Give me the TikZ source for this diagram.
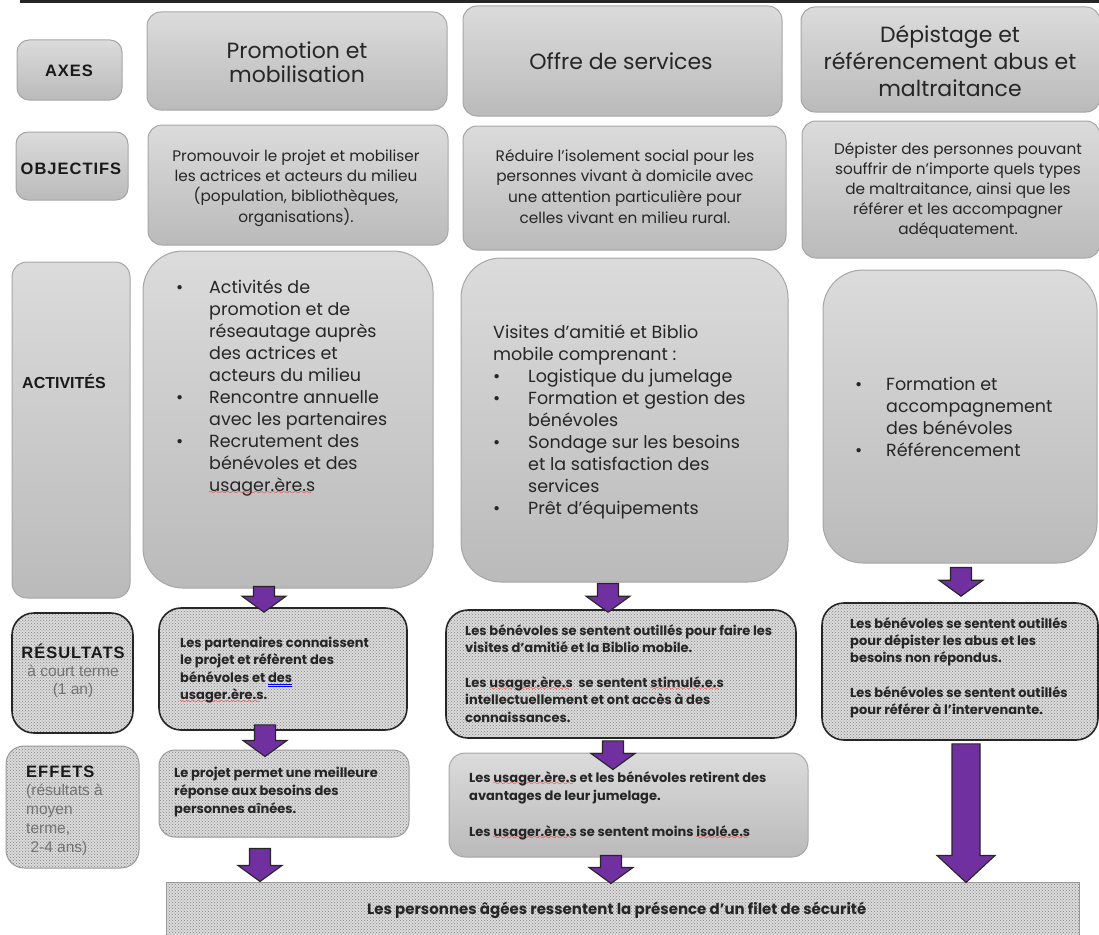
\documentclass[tikz,border=0pt]{standalone}
\usepackage{fontspec}
\usetikzlibrary{fit,patterns,calc}

\setmainfont{Poppins}
\newfontfamily\lblfont{Liberation Sans}
\newfontfamily\lblwide[LetterSpace=6]{Liberation Sans}

\definecolor{arrowpurple}{HTML}{7030A0}
\definecolor{boxtext}{HTML}{262626}

% spell-check marks
\font\spellfont=lasy8
\newsavebox\markbox
\newcommand{\sqw}[1]{\sbox\markbox{#1}\rlap{\textcolor{red}{\lower3.5pt\hbox to \wd\markbox{\leaders\hbox{\spellfont\char58}\hfill}}}\usebox\markbox}
\newcommand{\gram}[1]{\sbox\markbox{#1}\rlap{\textcolor{blue}{\rule[-2.5pt]{\wd\markbox}{0.8pt}}}\rlap{\textcolor{blue}{\rule[-4.5pt]{\wd\markbox}{0.8pt}}}\usebox\markbox}

% block arrow: from, to, x, top shift, tip shift, shaft half width, head half width, head length
\newcommand{\blockarrow}[8]{%
  \draw[blockarrow] let \p1=(#1), \p2=(#2) in
    ({(#3-#6)*1pt},{\y1-(#4pt)}) -- ({(#3+#6)*1pt},{\y1-(#4pt)})
    -- ({(#3+#6)*1pt},{\y2-(#5pt)+#8pt}) -- ({(#3+#7)*1pt},{\y2-(#5pt)+#8pt})
    -- ({#3*1pt},{\y2-(#5pt)})
    -- ({(#3-#7)*1pt},{\y2-(#5pt)+#8pt}) -- ({(#3-#6)*1pt},{\y2-(#5pt)+#8pt}) -- cycle;}
\newcommand{\smallarrow}[5]{\blockarrow{#1}{#2}{#3}{#4}{#5}{10.5}{22}{16}}

\begin{document}
\begin{tikzpicture}[x=1pt, y=-1pt,
    box/.style={draw=black!35, line width=1pt, rounded corners=14pt, inner sep=0pt,
      top color=black!14, bottom color=black!27},
    bigbox/.style={box, rounded corners=40pt},
    patbox/.style={rounded corners=22pt, inner sep=0pt, draw=black!85, line width=1.6pt,
      preaction={fill=black!14}, pattern=crosshatch dots, pattern color=black!50},
    softpat/.style={patbox, draw=black!40, line width=1pt, rounded corners=16pt},
    txt/.style={inner sep=0pt, text=boxtext},
    lbl/.style={inner sep=0pt, text=black!90},
    blockarrow/.style={fill=arrowpurple, draw=black!85, line width=1.1pt, line join=miter}]
\useasboundingbox (0,0) rectangle (1099,934);
% Top rule
\draw[line width=3pt, black!85] (20,1.5) -- (1099,1.5);

% Row labels
\node[box, rounded corners=12pt, fit={(17,40) (122,100)}] (axes) {};
\node[box, rounded corners=12pt, fit={(16,132) (128,200)}] (objlbl) {};
\node[box, rounded corners=15pt, fit={(12,262) (130,598)}] (actlbl) {};
\node[patbox, fit={(12,613) (133,733)}] (reslbl) {};
\node[softpat, rounded corners=18pt, fit={(6,746) (139,868)}] (efflbl) {};

% Axes
\node[box, fit={(147,12) (447,110)}] (promo) {};
\node[box, fit={(463,6) (782,116)}] (offre) {};
\node[box, fit={(801,7) (1100,112)}] (depist) {};

% Objectifs
\node[box, fit={(148,125) (448,245)}] (obj1) {};
\node[box, fit={(463,126) (786,250)}] (obj2) {};
\node[box, fit={(802,121) (1100,258)}] (obj3) {};

% Activites
\node[bigbox, fit={(143,251) (433,588)}] (act1) {};
\node[bigbox, fit={(461,258) (788,582)}] (act2) {};
\node[bigbox, fit={(823,270) (1097,563)}] (act3) {};

% Resultats
\node[patbox, fit={(159,608) (407,730)}] (res1) {};
\node[patbox, fit={(446,610) (796,738)}] (res2) {};
\node[patbox, fit={(822,603) (1098,740)}] (res3) {};

% Effets
\node[softpat, fit={(159,750) (409,837)}] (eff1) {};
\node[box, rounded corners=16pt, fit={(449,753) (808,857)}] (eff2) {};

% Final
\node[softpat, rounded corners=0pt, fit={(166,882) (1079,950)}] (final) {};

% Arrows
\smallarrow{act1.south}{res1.north}{264}{-2}{5}
\smallarrow{act2.south}{res2.north}{608}{1}{3}
\smallarrow{act3.south}{res3.north}{961}{4}{-6}
\smallarrow{res1.south}{eff1.north}{265}{-6}{7}
\smallarrow{res2.south}{eff2.north}{613}{2}{17}
\blockarrow{res3.south}{final.north}{966}{3}{1}{14}{29}{27}
\smallarrow{eff1.south}{final.north}{260}{11}{0}
\smallarrow{eff2.south}{final.north}{611}{-2}{2}

% Label texts
\node[lbl, font=\lblwide\bfseries\fontsize{16.5}{20}\selectfont, anchor=base] (axest) at (69,77) {AXES};
\node[lbl, font=\lblwide\bfseries\fontsize{16.5}{20}\selectfont, anchor=base] (objt) at (71,174) {OBJECTIFS};
\node[lbl, font=\lblfont\bfseries\fontsize{16}{20}\selectfont, anchor=base west] (actt) at (22,388) {ACTIVITÉS};
\node[lbl, font=\lblfont\fontsize{15.5}{18}\selectfont, anchor=base] (rest) at (73,658)
  {\begin{tabular}[t]{@{}c@{}}{\lblwide\bfseries\fontsize{16.5}{18}\selectfont RÉSULTATS}\\
   \color{black!55}à court terme\\ \color{black!55}(1 an)\end{tabular}};
\node[lbl, font=\lblfont\fontsize{15.5}{18.8}\selectfont, anchor=base west] (efft) at (26,777)
  {\begin{tabular}[t]{@{}l@{}}{\lblwide\bfseries\fontsize{16.5}{18}\selectfont EFFETS}\\
   \color{black!55}(résultats à\\ \color{black!55}moyen\\ \color{black!55}terme,\\ \color{black!55}\ 2-4 ans)\end{tabular}};

% Axe texts
\node[txt, font=\fontsize{22}{24}\selectfont, anchor=base] (promot) at (297,59)
  {\begin{tabular}[t]{@{}c@{}}Promotion et\\mobilisation\end{tabular}};
\node[txt, font=\fontsize{22}{24}\selectfont, anchor=base] (offret) at (621,69) {Offre de services};
\node[txt, font=\fontsize{22}{27}\selectfont, anchor=base] (depistt) at (950,43)
  {\begin{tabular}[t]{@{}c@{}}Dépistage et\\référencement abus et\\maltraitance\end{tabular}};

% Objectif texts
\node[txt, font=\fontsize{15.3}{20.3}\selectfont, anchor=base] (obj1t) at (296,161)
  {\begin{tabular}[t]{@{}c@{}}Promouvoir le projet et mobiliser\\les actrices et acteurs du milieu\\
   (population, bibliothèques,\\organisations).\end{tabular}};
\node[txt, font=\fontsize{15.3}{20.8}\selectfont, anchor=base] (obj2t) at (625,161)
  {\begin{tabular}[t]{@{}c@{}}Réduire l’isolement social pour les\\personnes vivant à domicile avec\\
   une attention particulière pour\\celles vivant en milieu rural.\end{tabular}};
\node[txt, font=\fontsize{15.3}{20.2}\selectfont, anchor=base] (obj3t) at (958,154)
  {\begin{tabular}[t]{@{}c@{}}Dépister des personnes pouvant\\souffrir de n’importe quels types\\
   de maltraitance, ainsi que les\\référer et les accompagner\\adéquatement.\end{tabular}};

% Activite texts
\node[txt, font=\fontsize{17.5}{22}\selectfont, anchor=base west] (act1t) at (176,293)
  {\begin{tabular}[t]{@{}p{33pt}@{}l@{}}
   \textbullet & Activités de\\ & promotion et de\\ & réseautage auprès\\
   & des actrices et\\ & acteurs du milieu\\
   \textbullet & Rencontre annuelle\\ & avec les partenaires\\
   \textbullet & Recrutement des\\ & bénévoles et des\\ & \sqw{usager.ère.s}
   \end{tabular}};
\node[txt, font=\fontsize{17.5}{22}\selectfont, anchor=base west] (act2t) at (493,338)
  {\begin{tabular}[t]{@{}p{35pt}@{}l@{}}
   \multicolumn{2}{@{}l@{}}{Visites d’amitié et Biblio}\\
   \multicolumn{2}{@{}l@{}}{mobile comprenant :}\\
   \textbullet & Logistique du jumelage\\
   \textbullet & Formation et gestion des\\ & bénévoles\\
   \textbullet & Sondage sur les besoins\\ & et la satisfaction des\\ & services\\
   \textbullet & Prêt d’équipements
   \end{tabular}};
\node[txt, font=\fontsize{17.5}{22}\selectfont, anchor=base west] (act3t) at (855,390)
  {\begin{tabular}[t]{@{}p{31pt}@{}l@{}}
   \textbullet & Formation et\\ & accompagnement\\ & des bénévoles\\
   \textbullet & Référencement
   \end{tabular}};

% Resultat texts
\node[txt, font=\bfseries\fontsize{13}{17.5}\selectfont, anchor=base west] (res1t) at (180,647)
  {\begin{tabular}[t]{@{}l@{}}Les partenaires connaissent\\le projet et réfèrent des\\
   bénévoles et \gram{des}\\\sqw{usager.ère.s}.\end{tabular}};
\node[txt, font=\bfseries\fontsize{13}{17.4}\selectfont, anchor=base west] (res2t) at (465,635)
  {\begin{tabular}[t]{@{}l@{}}Les bénévoles se sentent outillés pour faire les\\
   visites d’amitié et la Biblio mobile.\\ \\
   Les \sqw{usager.ère.s}\ \ se sentent \sqw{stimulé.e.s}\\
   intellectuellement et ont accès à des\\connaissances.\end{tabular}};
\node[txt, font=\bfseries\fontsize{13}{17.3}\selectfont, anchor=base west] (res3t) at (850,628)
  {\begin{tabular}[t]{@{}l@{}}Les bénévoles se sentent outillés\\pour dépister les abus et les\\
   besoins non répondus.\\ \\
   Les bénévoles se sentent outillés\\pour référer à l’intervenante.\end{tabular}};

% Effet texts
\node[txt, font=\bfseries\fontsize{13}{18}\selectfont, anchor=base west] (eff1t) at (174,777)
  {\begin{tabular}[t]{@{}l@{}}Le projet permet une meilleure\\réponse aux besoins des\\
   personnes aînées.\end{tabular}};
\node[txt, font=\bfseries\fontsize{13}{18}\selectfont, anchor=base west] (eff2t) at (469,782)
  {\begin{tabular}[t]{@{}l@{}}Les \sqw{usager.ère.s} et les bénévoles retirent des\\
   avantages de leur jumelage.\\ \\
   Les \sqw{usager.ère.s} se sentent moins \sqw{isolé.e.s}\end{tabular}};

% Final text
\node[txt, font=\bfseries\fontsize{15}{18}\selectfont, anchor=base west] (finalt) at (367,914)
  {Les personnes âgées ressentent la présence d’un filet de sécurité};
\end{tikzpicture}
\end{document}
